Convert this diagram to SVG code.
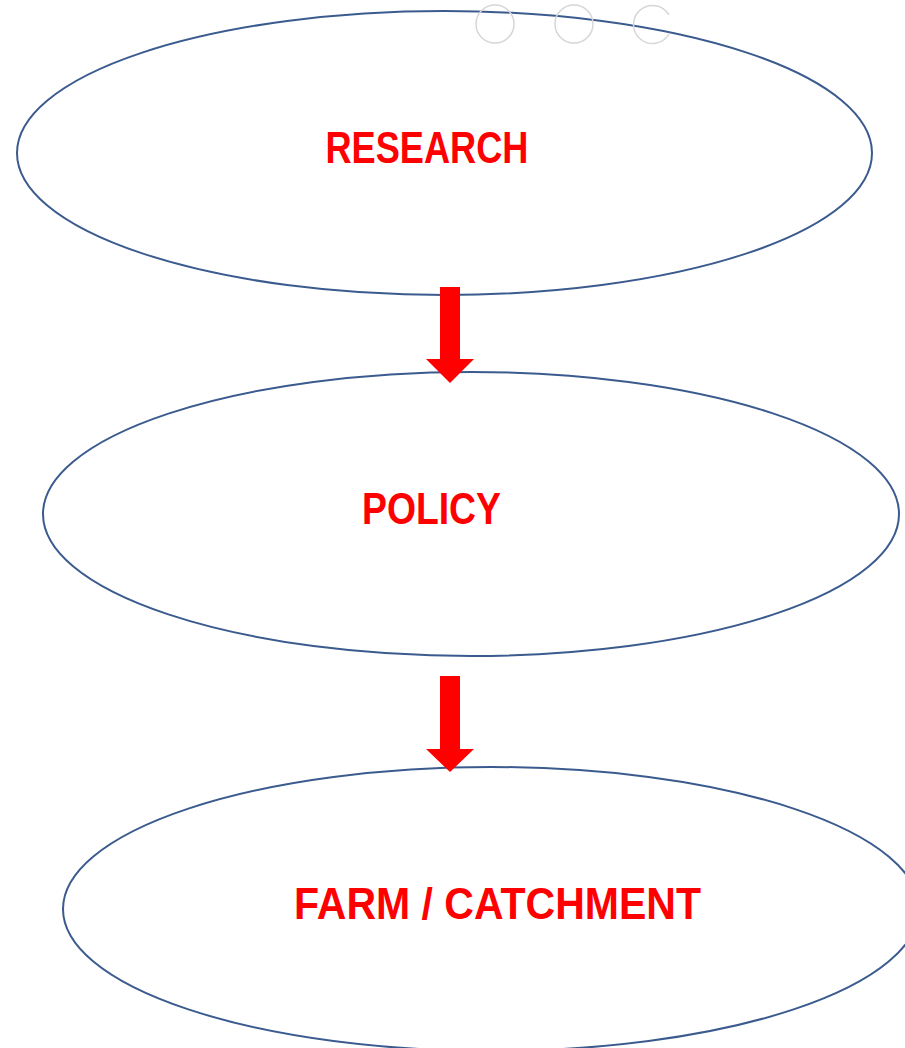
<svg xmlns="http://www.w3.org/2000/svg" width="905" height="1048" viewBox="0 0 905 1048">
<style>
.node{fill:#fff;stroke:#3B5B8F;stroke-width:2}
.lbl{font-family:"Liberation Sans",Arial,sans-serif;font-weight:bold;font-size:45px;fill:#FF0000;text-anchor:middle}
.ring{fill:none;stroke:#D6D6D6;stroke-width:1.5}
.arr{fill:#FF0000}
</style>
<rect width="905" height="1048" fill="#fff"/>
<g id="research"><ellipse class="node" cx="444.5" cy="153" rx="427.5" ry="142"/><text class="lbl" x="427" y="163" textLength="203" lengthAdjust="spacingAndGlyphs">RESEARCH</text></g>
<g id="policy"><ellipse class="node" cx="471" cy="514" rx="428" ry="142"/><text class="lbl" x="431.5" y="524" textLength="139" lengthAdjust="spacingAndGlyphs">POLICY</text></g>
<g id="farm"><ellipse class="node" cx="491" cy="909" rx="428" ry="142"/><text class="lbl" x="497.5" y="919" textLength="407" lengthAdjust="spacingAndGlyphs">FARM / CATCHMENT</text></g>
<g id="rings">
<circle class="ring" cx="495" cy="24" r="19"/>
<circle class="ring" cx="574" cy="24" r="19"/>
<path class="ring" d="M669 15 A19 19 0 1 0 669.5 33"/>
</g>
<g id="connectors">
<polygon class="arr" points="440,287 460,287 460,359 474,359 450,383 426,359 440,359"/>
<polygon class="arr" points="440,676 460,676 460,749 474,749 450,772 426,749 440,749"/>
</g>
</svg>
